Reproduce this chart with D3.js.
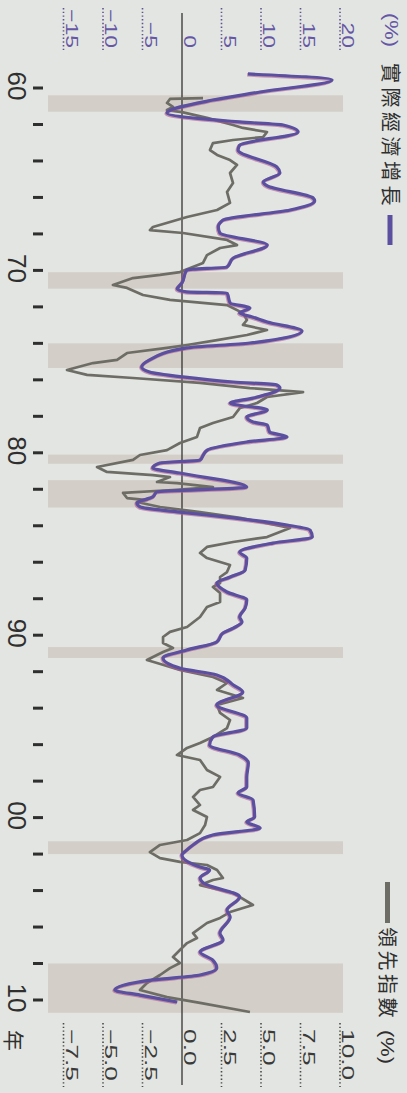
<!DOCTYPE html>
<html>
<head>
<meta charset="utf-8">
<script src="https://cdn.jsdelivr.net/npm/d3@7"></script>
<style>
  body { margin: 0; background: #e2e5e1; }
  svg { display: block; }
</style>
</head>
<body>
<svg id="chart"></svg>
<script>
const gdpYears = [1959.23, 1959.56, 1960.22, 1960.66, 1961.37, 1961.86, 1962.03, 1962.41, 1963.13, 1963.40,
  1964.33, 1964.66, 1965.15, 1965.37, 1966.03, 1966.20, 1966.69, 1967.24, 1967.62, 1967.95,
  1968.61, 1969.32, 1969.81, 1969.98, 1970.69, 1971.02, 1971.18, 1971.24, 1971.79, 1972.06,
  1972.34, 1972.55, 1972.83, 1973.32, 1973.98, 1974.25, 1974.91, 1975.30, 1975.57, 1975.84,
  1976.12, 1976.28, 1976.45, 1977.00, 1977.27, 1977.65, 1978.04, 1978.31, 1978.48, 1978.86,
  1979.13, 1979.41, 1979.85, 1980.12, 1980.39, 1980.56, 1980.83, 1981.11, 1981.88, 1982.15,
  1982.42, 1982.75, 1982.97, 1983.25, 1983.57, 1983.96, 1984.23, 1984.62, 1984.95, 1985.44,
  1985.77, 1986.43, 1986.81, 1987.14, 1987.63, 1988.07, 1988.51, 1989.00, 1989.28, 1989.61,
  1989.88, 1990.37, 1990.81, 1991.25, 1991.80, 1992.18, 1992.73, 1993.11, 1993.83, 1994.54,
  1995.09, 1995.58, 1996.02, 1996.57, 1997.01, 1997.77, 1998.32, 1998.65, 1999.04, 1999.97,
  2000.24, 2000.57, 2000.95, 2001.50, 2001.78, 2002.05, 2002.71, 2002.87, 2003.31, 2003.58,
  2004.35, 2005.07, 2005.45, 2006.33, 2006.71, 2007.37, 2007.81, 2008.25, 2008.63, 2008.90,
  2009.45, 2009.73, 2010.11];
const gdpValues = [8.35, 19.0, 9.9, 3.9, -1.9, 7.3, 12.8, 14.7, 7.3, 7.1,
  12.0, 12.4, 10.3, 10.8, 16.6, 16.8, 13.7, 5.2, 4.6, 4.8,
  10.8, 6.5, 5.7, 0.6, 0.0, -0.6, 0.6, 5.7, 6.1, 8.6,
  7.3, 8.9, 10.8, 15.2, 8.6, 0.6, -4.1, -5.1, -4.1, 0.1,
  6.5, 12.0, 12.4, 9.0, 6.1, 10.8, 8.2, 9.0, 10.8, 11.1,
  13.3, 8.2, 3.2, 2.7, 2.3, -2.8, -3.7, -0.3, 8.2, -3.2,
  -3.7, -5.7, -5.3, -0.3, 6.5, 13.3, 16.2, 16.5, 11.5, 7.3,
  8.2, 8.0, 6.1, 4.4, 5.7, 8.2, 8.0, 7.3, 7.6, 6.5,
  5.2, 4.4, 0.6, -2.4, -0.3, 4.4, 6.5, 7.7, 4.4, 8.2,
  8.2, 3.9, 3.5, 7.3, 8.4, 8.2, 8.2, 7.1, 9.0, 9.2,
  8.2, 9.9, 3.9, 1.4, 0.6, 0.0, 2.3, 3.5, 2.3, 2.7,
  7.3, 5.7, 6.1, 4.8, 5.2, 2.3, 3.9, 4.4, 2.3, -3.7,
  -8.5, -5.3, -0.6];

// leading index (%), right axis
const leadYears = [1960.55, 1960.60, 1960.82, 1961.04, 1961.21, 1961.32, 1961.64, 1962.03, 1962.19, 1962.41,
  1962.69, 1962.85, 1963.02, 1963.40, 1963.67, 1963.95, 1964.22, 1964.66, 1965.21, 1965.70,
  1966.30, 1966.69, 1967.07, 1967.62, 1967.79, 1967.95, 1968.33, 1968.61, 1968.77, 1969.16,
  1969.59, 1970.09, 1970.25, 1970.42, 1970.80, 1970.96, 1971.35, 1971.62, 1971.90, 1972.34,
  1972.72, 1972.99, 1973.27, 1973.54, 1973.82, 1974.09, 1974.25, 1974.53, 1974.91, 1975.08,
  1975.46, 1975.73, 1975.90, 1976.17, 1976.45, 1976.67, 1976.94, 1977.27, 1977.54, 1978.04,
  1978.37, 1978.64, 1979.13, 1979.46, 1979.85, 1980.12, 1980.39, 1980.78, 1981.05, 1981.22,
  1981.33, 1981.60, 1981.66, 1981.88, 1982.04, 1982.20, 1982.48, 1982.59, 1982.70, 1982.97,
  1983.25, 1983.57, 1984.12, 1984.62, 1984.89, 1985.16, 1985.49, 1985.77, 1986.15, 1986.54,
  1986.81, 1987.14, 1987.36, 1987.69, 1988.18, 1988.45, 1989.00, 1989.55, 1989.82, 1990.10,
  1990.43, 1990.70, 1990.92, 1991.36, 1991.52, 1991.91, 1992.29, 1992.62, 1993.00, 1993.44,
  1993.83, 1994.26, 1994.65, 1995.09, 1995.58, 1995.91, 1996.18, 1996.57, 1996.84, 1997.39,
  1997.77, 1998.32, 1998.49, 1998.87, 1999.31, 1999.58, 1999.97, 2000.41, 2000.85, 2001.23,
  2001.50, 2001.89, 2002.22, 2002.43, 2002.60, 2002.87, 2003.31, 2003.42, 2003.70, 2004.13,
  2004.79, 2005.18, 2005.50, 2005.78, 2006.33, 2006.60, 2006.88, 2007.26, 2007.64, 2007.97,
  2008.25, 2008.63, 2009.07, 2009.45, 2009.84, 2010.16, 2010.66];
const leadValues = [1.33, -0.76, -0.95, -0.57, -0.95, 0.00, 1.58, 3.23, 3.86, 5.38,
  5.13, 3.23, 1.96, 1.77, 2.22, 3.04, 3.48, 3.04, 3.23, 2.85,
  3.04, 2.22, 0.32, -1.84, -2.03, 0.06, 2.85, 3.48, 2.41, 1.58,
  1.33, -0.13, -1.39, -3.10, -4.37, -3.48, -2.47, -0.76, 2.85, 3.86,
  4.11, 3.86, 5.38, 4.11, 2.22, 0.32, -0.95, -3.48, -4.11, -5.63,
  -7.28, -6.01, -3.10, 1.14, 4.30, 7.66, 5.38, 4.75, 3.67, 3.23,
  1.96, 1.14, 0.95, -0.13, -0.95, -2.66, -3.10, -5.38, -4.75, -1.84,
  -0.76, -1.58, -0.32, 1.96, -0.57, -3.73, -3.48, -2.22, -2.85, -1.39,
  1.14, 3.67, 6.84, 5.38, 3.23, 1.58, 1.14, 1.58, 3.04, 2.85,
  2.41, 2.41, 1.96, 2.41, 2.41, 1.58, 1.14, 0.32, -0.76, -1.20,
  -1.20, -0.57, -1.20, -2.22, -1.58, -0.13, 1.96, 2.85, 2.22, 3.86,
  2.22, 2.41, 3.04, 2.85, 1.96, 1.14, 0.32, -0.32, 1.14, 1.58,
  2.41, 1.96, 1.14, 0.70, 1.14, 0.70, 1.58, 1.46, 1.14, 0.32,
  -1.39, -2.03, -1.39, -0.13, 1.58, 2.22, 2.59, 1.96, 1.14, 3.23,
  4.49, 3.04, 2.41, 1.58, 0.70, 0.95, 0.32, -0.13, -0.57, -0.13,
  -0.76, -1.39, -2.22, -2.66, -0.95, 1.14, 4.30];

// shaded recession periods [start, end]
const recessions = [[1960.4, 1961.3], [1970.1, 1971.0], [1974.0, 1975.35], [1980.1, 1980.6],
  [1981.5, 1983.0], [1990.65, 1991.25], [2001.3, 2002.0], [2008.0, 2010.7]];

const tickYears = d3.range(1960, 2011, 2);
const yearLabelYears = [1960, 1970, 1980, 1990, 2000, 2010];
const yearLabels = ["60", "70", "80", "90", "00", "10"];
const leftTicks = [20, 15, 10, 5, 0, -5, -10, -15];
const leftTickLabels = ["20", "15", "10", "5", "0", "−5", "−10", "−15"];
const rightTicks = [10, 7.5, 5, 2.5, 0, -2.5, -5, -7.5];
const rightTickLabels = ["10.0", "7.5", "5.0", "2.5", "0.0", "−2.5", "−5.0", "−7.5"];

document.addEventListener('DOMContentLoaded', function() {
    const W = 407, H = 1093;
    const purple = "#5b4f9f";
    const grey = "#6d6d66";
    const ink = "#2f2f2f";
    const latin = "'Liberation Sans', Arial, sans-serif";
    const cjk = "'Noto Sans CJK TC', 'Noto Sans CJK SC', sans-serif";

    const svg = d3.select("#chart")
        .attr("width", W)
        .attr("height", H);

    svg.append("rect")
        .attr("width", W)
        .attr("height", H)
        .attr("fill", "#e2e5e1");

    // chart is laid out landscape, then turned a quarter clockwise
    const g = svg.append("g")
        .attr("transform", `translate(${W},0) rotate(90)`);

    const x = d3.scaleLinear().domain([1960, 2010]).range([88, 1000]);
    const yL = d3.scaleLinear().domain([-15, 20]).range([343.5, 67]);
    const yR = d3.scaleLinear().domain([-7.5, 10]).range([343.5, 67]);

    // recession bands
    g.selectAll(".band")
        .data(recessions)
        .enter().append("rect")
        .attr("class", "band")
        .attr("x", d => x(d[0]))
        .attr("width", d => x(d[1]) - x(d[0]))
        .attr("y", 64)
        .attr("height", 295)
        .attr("fill", "#d3cec7");

    // left axis: dotted leaders + labels
    const left = g.selectAll(".lt")
        .data(leftTicks)
        .enter().append("g")
        .attr("class", "lt");

    left.filter(d => d !== 0).append("line")
        .attr("x1", 8).attr("x2", 52)
        .attr("y1", d => yL(d)).attr("y2", d => yL(d))
        .attr("stroke", "#5e5290")
        .attr("stroke-width", 1.6)
        .attr("stroke-dasharray", "1.4 2.3");

    left.append("text")
        .attr("transform", d => `translate(48,${yL(d) - 2}) scale(1.35,1)`)
        .attr("text-anchor", "end")
        .style("font-family", latin)
        .style("font-size", "17px")
        .attr("fill", "#6556a6")
        .text((d, i) => leftTickLabels[i]);

    // right axis
    const right = g.selectAll(".rt")
        .data(rightTicks)
        .enter().append("g")
        .attr("class", "rt");

    right.filter(d => d !== 0).append("line")
        .attr("x1", 1023).attr("x2", 1087)
        .attr("y1", d => yR(d)).attr("y2", d => yR(d))
        .attr("stroke", "#4a4a4a")
        .attr("stroke-width", 1.6)
        .attr("stroke-dasharray", "1.4 2.3");

    right.append("text")
        .attr("transform", d => `translate(1029,${yR(d) - 2}) scale(1.55,1)`)
        .attr("text-anchor", "start")
        .style("font-family", latin)
        .style("font-size", "17px")
        .attr("fill", "#3a3a3a")
        .text((d, i) => rightTickLabels[i]);

    // zero line
    g.append("line")
        .attr("x1", 13).attr("x2", 1085)
        .attr("y1", yL(0)).attr("y2", yL(0))
        .attr("stroke", "#333")
        .attr("stroke-width", 1.3);

    // year ticks and labels
    g.selectAll(".tick")
        .data(tickYears)
        .enter().append("line")
        .attr("class", "tick")
        .attr("x1", d => x(d)).attr("x2", d => x(d))
        .attr("y1", 364).attr("y2", 374)
        .attr("stroke", ink)
        .attr("stroke-width", 3);

    g.selectAll(".year")
        .data(yearLabelYears)
        .enter().append("text")
        .attr("class", "year")
        .attr("x", d => x(d) - 2)
        .attr("y", 399)
        .attr("text-anchor", "middle")
        .style("font-family", latin)
        .style("font-size", "26px")
        .attr("fill", ink)
        .text((d, i) => yearLabels[i]);

    g.append("text")
        .attr("x", 1030)
        .attr("y", 401)
        .style("font-family", cjk)
        .style("font-size", "21px")
        .attr("fill", ink)
        .text("年");

    // lines
    const leadLine = d3.line()
        .x((d, i) => x(leadYears[i]))
        .y(d => yR(d));

    const gdpLine = d3.line()
        .x((d, i) => x(gdpYears[i]))
        .y(d => yL(d))
        .curve(d3.curveMonotoneX);

    g.append("path")
        .attr("d", leadLine(leadValues))
        .attr("fill", "none")
        .attr("stroke", grey)
        .attr("stroke-width", 2.7)
        .attr("stroke-linejoin", "round");

    g.append("path")
        .attr("d", gdpLine(gdpValues))
        .attr("fill", "none")
        .attr("stroke", "#b0588f")
        .attr("stroke-width", 3.6)
        .attr("stroke-linejoin", "round")
        .attr("transform", "translate(0.8,0.8)")
        .attr("opacity", 0.6);

    g.append("path")
        .attr("d", gdpLine(gdpValues))
        .attr("fill", "none")
        .attr("stroke", purple)
        .attr("stroke-width", 3.2)
        .attr("stroke-linejoin", "round");

    // legend, top
    g.append("text")
        .attr("transform", "translate(13,22) scale(1.15,1)")
        .style("font-family", latin)
        .style("font-size", "19px")
        .attr("fill", "#6556a6")
        .text("(%)");

    g.append("text")
        .attr("x", 63)
        .attr("y", 24)
        .style("font-family", cjk)
        .style("font-size", "20px")
        .style("letter-spacing", "4.5px")
        .attr("fill", ink)
        .text("實際經濟增長");

    g.append("line")
        .attr("x1", 215).attr("x2", 245)
        .attr("y1", 17).attr("y2", 17)
        .attr("stroke", purple)
        .attr("stroke-width", 5);

    // legend, bottom
    g.append("line")
        .attr("x1", 882).attr("x2", 923)
        .attr("y1", 19.5).attr("y2", 19.5)
        .attr("stroke", grey)
        .attr("stroke-width", 5);

    g.append("text")
        .attr("x", 927)
        .attr("y", 27)
        .style("font-family", cjk)
        .style("font-size", "20px")
        .style("letter-spacing", "3.5px")
        .attr("fill", ink)
        .text("領先指數");

    g.append("text")
        .attr("transform", "translate(1030,26) scale(1.15,1)")
        .style("font-family", latin)
        .style("font-size", "19px")
        .attr("fill", ink)
        .text("(%)");
});
</script>
</body>
</html>
